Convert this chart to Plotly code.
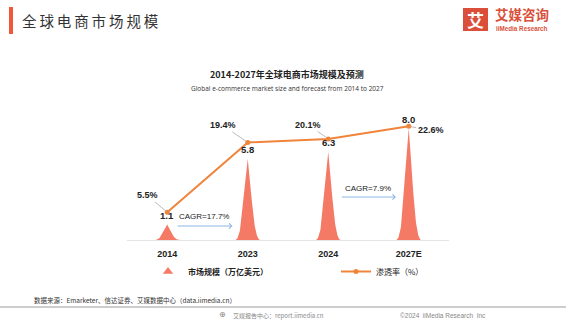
import numpy as np
import plotly.graph_objects as go

categories = ["2014", "2023", "2024", "2027E"]
market_size = [1.1, 5.8, 6.3, 8.0]          # 万亿美元
penetration = [5.5, 19.4, 20.1, 22.6]       # %
cagr_labels = ["CAGR=17.7%", "CAGR=7.9%"]

BAR_COLOR = "#F47A66"
LINE_COLOR = "#F0843A"
ARROW_COLOR = "#8DB6E6"
CJK = "Noto Sans CJK SC"
LAT = "Arial, Liberation Sans"

W, H = 566, 323
pl, pr, pt, pb = 127, 117, 100, 83
pw, ph = W - pl - pr, H - pt - pb

fig = go.Figure()

def bez(p0, p1, p2, p3, n=40):
    t = np.linspace(0, 1, n)[:, None]
    return ((1 - t) ** 3) * p0 + 3 * ((1 - t) ** 2) * t * p1 + 3 * (1 - t) * t ** 2 * p2 + t ** 3 * p3

half_w = 0.158
for i, v in enumerate(market_size):
    right = bez(np.array([10, 10]), np.array([7.5, 10]), np.array([7.0, 6]), np.array([5, 0]))
    left = bez(np.array([5, 0]), np.array([3.0, 6]), np.array([2.5, 10]), np.array([0, 10]))
    pts = np.vstack([[[0, 10]], right, left])
    xs = i + (pts[:, 0] - 5) / 5 * half_w
    ys = v * (10 - pts[:, 1]) / 10
    fig.add_trace(go.Scatter(x=xs, y=ys, mode="lines", fill="toself", fillcolor=BAR_COLOR,
                             line=dict(width=0, color=BAR_COLOR), hoverinfo="skip", showlegend=False))

fig.add_trace(go.Scatter(x=[None], y=[None], mode="markers", name="<b>市场规模（万亿美元）</b>",
                         legend="legend", marker=dict(symbol="triangle-up", size=9, color=BAR_COLOR)))
fig.add_trace(go.Scatter(x=list(range(len(categories))), y=penetration, yaxis="y2", mode="lines+markers",
                         name="渗透率（%）", legend="legend2", line=dict(color=LINE_COLOR, width=2),
                         marker=dict(size=5, color=LINE_COLOR)))

for i, v in enumerate(market_size):
    fig.add_annotation(x=i, y=v, xref="x", yref="y", text=f"<b>{v:.1f}</b>", showarrow=False, yshift=9,
                       font=dict(family=LAT, size=9.5, color="#222"))

pct_off = [(-20, -17), (-25, -17), (-20, -14), (22, 4)]
for i, p in enumerate(penetration):
    ax, ay = pct_off[i]
    fig.add_annotation(x=i, y=p, xref="x", yref="y2", text=f"<b>{p:.1f}%</b>", showarrow=True,
                       arrowhead=0, arrowwidth=0.8, arrowcolor="#AAAAAA", ax=ax, ay=ay, standoff=2,
                       font=dict(family=LAT, size=9, color="#222"))

cagr_spans = [(0.11, 0.81, 1.0, 1.66), (2.15, 2.84, 3.07, 3.68)]
for lab, (x0, x1, ya, yt) in zip(cagr_labels, cagr_spans):
    fig.add_annotation(x=x1, y=ya, ax=x0, ay=ya, xref="x", yref="y", axref="x", ayref="y",
                       text="", showarrow=True, arrowhead=4, arrowsize=1, arrowwidth=1,
                       arrowcolor=ARROW_COLOR)
    fig.add_annotation(x=(x0 + x1) / 2, y=yt, xref="x", yref="y", text=lab, showarrow=False,
                       font=dict(family=LAT, size=8, color="#222"))

leg_common = dict(orientation="h", xref="container", yref="container", xanchor="left", yanchor="top",
                  itemwidth=30, font=dict(family=CJK, size=8, color="#222"), bgcolor="rgba(0,0,0,0)")
fig.update_layout(
    width=W, height=H,
    margin=dict(l=pl, r=pr, t=pt, b=pb, autoexpand=False),
    paper_bgcolor="white", plot_bgcolor="white",
    xaxis=dict(range=[-0.5, 3.5], tickvals=list(range(len(categories))), ticktext=[f"<b>{c}</b>" for c in categories],
               showgrid=False, zeroline=False, showline=True, linecolor="#E6E6E6", linewidth=1, ticks="",
               ticklabelstandoff=5,
               tickfont=dict(family=LAT, size=9, color="#222")),
    yaxis=dict(range=[0, 10], visible=False),
    yaxis2=dict(range=[0, 27.83], overlaying="y", visible=False),
    showlegend=True,
    legend=dict(x=148 / W, y=1 - 257 / H, **leg_common),
    legend2=dict(x=336 / W, y=1 - 257 / H, **leg_common),
)

def px(x):
    return (x - pl) / pw
def py(y):
    return (H - pb - y) / ph

def txt(x, y, s, size, color, family=CJK, xanchor="center", bold=False):
    fig.add_annotation(x=px(x), y=py(y), xref="paper", yref="paper", text=(f"<b>{s}</b>" if bold else s),
                       showarrow=False, xanchor=xanchor, yanchor="middle",
                       font=dict(family=family, size=size, color=color))

txt(287, 74, "2014-2027年全球电商市场规模及预测", 9, "#222", bold=True)
txt(287, 88, "Global e-commerce market size and forecast from 2014 to 2027", 6.5, "#333",
    family="Open Sans, Liberation Sans")
fig.add_shape(type="rect", xref="paper", yref="paper", x0=px(9), x1=px(13), y0=py(34), y1=py(7),
              fillcolor="#F0583A", line=dict(width=0))
txt(20, 20, "\u2009".join("全球电商市场规模"), 14.5, "#333", xanchor="left")
fig.add_shape(type="rect", xref="paper", yref="paper", x0=px(463), x1=px(488), y0=py(31), y1=py(8),
              fillcolor="#DB4F3A", line=dict(width=0))
txt(475.5, 19.5, "艾", 17, "white", bold=True)
txt(493, 14, "艾媒咨询", 13.5, "#D9503A", xanchor="left", bold=True)
txt(494, 28.5, "iiMedia Research", 6.3, "#D9503A", family=LAT, xanchor="left", bold=True)
txt(32, 300, "数据来源：Emarketer、信达证券、艾媒数据中心（data.iimedia.cn）", 6.5, "#333", xanchor="left")
fig.add_shape(type="line", xref="paper", yref="paper", x0=px(0), x1=px(566), y0=py(307), y1=py(307),
              line=dict(color="#9A9A9A", width=1))
txt(222, 314.5, "⊕", 8, "#888", family="DejaVu Sans")
txt(231, 315, "艾媒报告中心：report.iimedia.cn", 6, "#888", xanchor="left")
txt(398, 315, "©2024  iiMedia Research  Inc", 6.5, "#888", family="Liberation Sans", xanchor="left")

fig.write_html("out.html")
